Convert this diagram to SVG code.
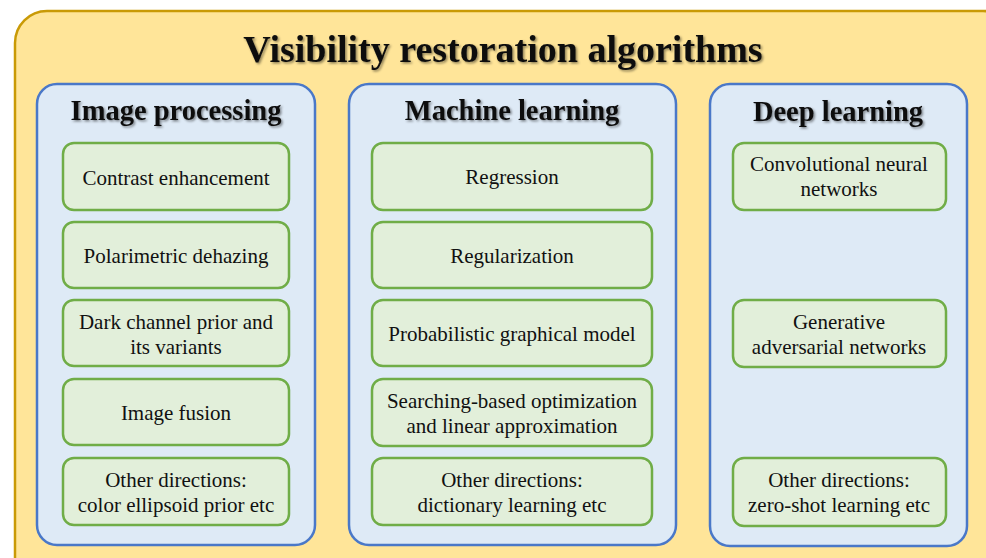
<svg xmlns="http://www.w3.org/2000/svg" width="986" height="558" viewBox="0 0 986 558">
<defs>
<filter id="sh" x="-5%" y="-20%" width="110%" height="150%">
<feDropShadow dx="1.5" dy="1.5" stdDeviation="1" flood-color="#000" flood-opacity="0.45"/>
</filter>
</defs>
<style>
.outer{fill:#FFE599;stroke:#C99A06;stroke-width:2.5}
.panel{fill:#DEEAF6;stroke:#4A78C8;stroke-width:2.5}
.box{fill:#E2EFDA;stroke:#70AD47;stroke-width:2.5}
text{font-family:"Liberation Serif","Times New Roman",serif;text-anchor:middle;fill:#111}
.title{font-size:38px;font-weight:bold;filter:url(#sh)}
.head{font-size:28.5px;font-weight:bold;filter:url(#sh)}
.t{font-size:21px}
</style>
<g id="outer">
<rect class="outer" x="15" y="11" width="1000" height="580" rx="32"/>
<text class="title" x="503" y="62">Visibility restoration algorithms</text>
</g>
<g id="panel-ip">
<rect class="panel" x="37" y="84" width="278" height="461" rx="20"/>
<text class="head" x="176" y="120">Image processing</text>
</g>
<g id="panel-ml">
<rect class="panel" x="349" y="84" width="327" height="461" rx="20"/>
<text class="head" x="512" y="120">Machine learning</text>
</g>
<g id="panel-dl">
<rect class="panel" x="710" y="84" width="257" height="462" rx="20"/>
<text class="head" x="838" y="121">Deep learning</text>
</g>
<g id="ip1"><rect class="box" x="63" y="143" width="226" height="67" rx="11"/><text class="t" x="176" y="185">Contrast enhancement</text></g>
<g id="ip2"><rect class="box" x="63" y="222" width="226" height="66" rx="11"/><text class="t" x="176" y="263">Polarimetric dehazing</text></g>
<g id="ip3"><rect class="box" x="63" y="300" width="226" height="66" rx="11"/><text class="t" x="176" y="329">Dark channel prior and</text><text class="t" x="176" y="354">its variants</text></g>
<g id="ip4"><rect class="box" x="63" y="379" width="226" height="66" rx="11"/><text class="t" x="176" y="420">Image fusion</text></g>
<g id="ip5"><rect class="box" x="63" y="458" width="226" height="67" rx="11"/><text class="t" x="176" y="487">Other directions:</text><text class="t" x="176" y="512">color ellipsoid prior etc</text></g>
<g id="ml1"><rect class="box" x="372" y="143" width="280" height="67" rx="11"/><text class="t" x="512" y="184">Regression</text></g>
<g id="ml2"><rect class="box" x="372" y="222" width="280" height="66" rx="11"/><text class="t" x="512" y="263">Regularization</text></g>
<g id="ml3"><rect class="box" x="372" y="300" width="280" height="66" rx="11"/><text class="t" x="512" y="341">Probabilistic graphical model</text></g>
<g id="ml4"><rect class="box" x="372" y="379" width="280" height="67" rx="11"/><text class="t" x="512" y="408">Searching-based optimization</text><text class="t" x="512" y="433">and linear approximation</text></g>
<g id="ml5"><rect class="box" x="372" y="458" width="280" height="67" rx="11"/><text class="t" x="512" y="487">Other directions:</text><text class="t" x="512" y="512">dictionary learning etc</text></g>
<g id="dl1"><rect class="box" x="733" y="143" width="213" height="67" rx="11"/><text class="t" x="839" y="171">Convolutional neural</text><text class="t" x="839" y="196">networks</text></g>
<g id="dl2"><rect class="box" x="733" y="300" width="213" height="67" rx="11"/><text class="t" x="839" y="329">Generative</text><text class="t" x="839" y="354">adversarial networks</text></g>
<g id="dl3"><rect class="box" x="733" y="458" width="213" height="68" rx="11"/><text class="t" x="839" y="487">Other directions:</text><text class="t" x="839" y="512">zero-shot learning etc</text></g>
<g id="connectors"/>
</svg>
